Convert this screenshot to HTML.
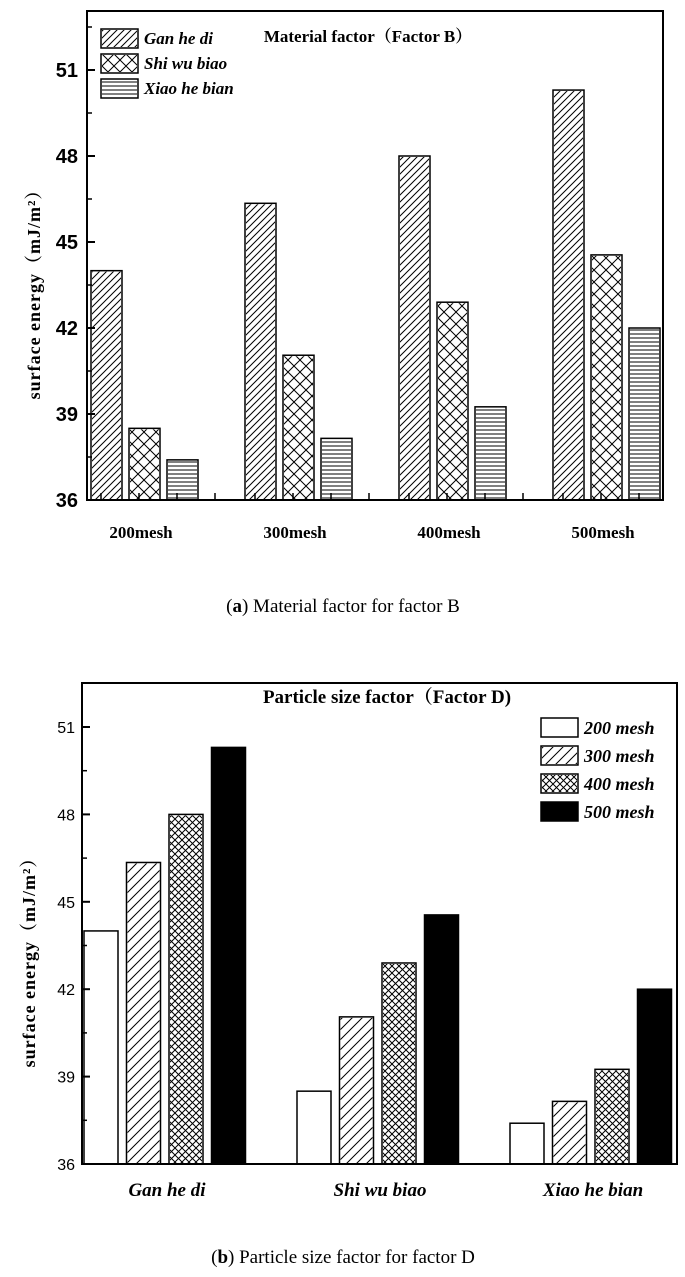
<!DOCTYPE html>
<html><head><meta charset="utf-8">
<style>
html,body{margin:0;padding:0;background:#fff;}
svg{display:block;}
</style></head>
<body>
<svg id="c" width="685" height="1277" viewBox="0 0 685 1277" xmlns="http://www.w3.org/2000/svg" font-family="Liberation Serif, serif">
<defs>
<pattern id="pDiag" patternUnits="userSpaceOnUse" width="7" height="7">
<path d="M-1,8 L8,-1 M-2,2 L2,-2 M5,9 L9,5" stroke="#000" stroke-width="1"/>
</pattern>
<pattern id="pDiag2" patternUnits="userSpaceOnUse" width="10" height="10">
<path d="M-1,11 L11,-1 M-3,3 L3,-3 M7,13 L13,7" stroke="#000" stroke-width="1"/>
</pattern>
<pattern id="pCross" patternUnits="userSpaceOnUse" width="12" height="12">
<path d="M0,0 L12,12 M12,0 L0,12" stroke="#000" stroke-width="1"/>
</pattern>
<pattern id="pCross2" patternUnits="userSpaceOnUse" width="7" height="7">
<path d="M0,0 L7,7 M7,0 L0,7" stroke="#000" stroke-width="1"/>
</pattern>
<pattern id="pHoriz" patternUnits="userSpaceOnUse" width="6" height="4">
<path d="M0,2 L6,2" stroke="#000" stroke-width="1"/>
</pattern>
</defs>
<g id="gA"></g>
<g id="gB"></g>
<text x="343" y="612" font-size="19" text-anchor="middle">(<tspan font-weight="bold">a</tspan>) Material factor for factor B</text>
<text x="343" y="1263" font-size="19" text-anchor="middle">(<tspan font-weight="bold">b</tspan>) Particle size factor for factor D</text>
</svg>
<script>
const meshCats = ["200mesh","300mesh","400mesh","500mesh"];
const materials = ["Gan he di","Shi wu biao","Xiao he bian"];
const ganValues = [44.0, 46.35, 48.0, 50.3];
const shiValues = [38.5, 41.05, 42.9, 44.55];
const xiaoValues = [37.4, 38.15, 39.25, 42.0];
const yTicks = [36, 39, 42, 45, 48, 51];
const meshLegend = ["200 mesh","300 mesh","400 mesh","500 mesh"];

const NS = "http://www.w3.org/2000/svg";
function mk(parent, tag, attrs, txt){
  const e = document.createElementNS(NS, tag);
  for (const k in attrs) e.setAttribute(k, attrs[k]);
  if (txt !== undefined) e.textContent = txt;
  parent.appendChild(e); return e;
}
const series = [ganValues, shiValues, xiaoValues];
const SANS = 'Liberation Sans, sans-serif';
const SERIFCJK = 'Liberation Serif, Noto Serif CJK SC, serif';

// ---------- Chart A ----------
(function(){
  const g = document.getElementById('gA');
  const L=87, R=663, T=11, B=500, ymin=36;
  const unit = (B-70)/(51-36);
  const y = v => B - (v-ymin)*unit;
  const fills = ["url(#pDiag)","url(#pCross)","url(#pHoriz)"];
  const gx0 = 91, pitch = 154, bw = 31, step = 38;
  meshCats.forEach((c,i)=>{
    series.forEach((s,j)=>{
      const x = gx0 + i*pitch + j*step;
      const r = mk(g,'rect',{x:x, y:y(s[i]), width:bw, height:B-y(s[i]), fill:'#fff', stroke:'#000','stroke-width':1.5});
      
      
      const h = mk(g,'rect',{x:x+1, y:y(s[i])+1, width:bw-2, height:B-y(s[i])-2, fill:fills[j]});
      
      
    });
    const t = mk(g,'text',{x:gx0+i*pitch+50, y:538, 'font-size':17,'font-weight':'bold','text-anchor':'middle'}, c);
    
    
    for (let k=0;k<4;k++){
      const tx = gx0 + i*pitch + 10 + k*38;
      if (tx < R-2) mk(g,'line',{x1:tx,y1:B,x2:tx,y2:B-7,stroke:'#000','stroke-width':1.5});
    }
  });
  mk(g,'rect',{x:L,y:T,width:R-L,height:B-T,fill:'none',stroke:'#000','stroke-width':2,});
  yTicks.forEach(v=>{
    mk(g,'line',{x1:L,y1:y(v),x2:L+8,y2:y(v),stroke:'#000','stroke-width':2});
    const t = mk(g,'text',{x:L-9,y:y(v)+7,'font-size':20,'font-weight':'bold','text-anchor':'end','font-family':SANS}, String(v));
    
    
    if (v<51){ mk(g,'line',{x1:L,y1:y(v+1.5),x2:L+5,y2:y(v+1.5),stroke:'#000','stroke-width':1.5}); }
  });
  mk(g,'line',{x1:L,y1:y(52.5),x2:L+5,y2:y(52.5),stroke:'#000','stroke-width':1.5});
  mk(g,'text',{x:40,y:290,'font-size':18,'font-weight':'bold','text-anchor':'middle','letter-spacing':'1',transform:'rotate(-90 40 290)','font-family':SERIFCJK},'surface energy（mJ/m²）');
  mk(g,'text',{x:368,y:42,'font-size':17,'font-weight':'bold','text-anchor':'middle','font-family':SERIFCJK},'Material factor（Factor B）');
  const ly=[29,54,79];
  materials.forEach((m,j)=>{
    mk(g,'rect',{x:101,y:ly[j],width:37,height:19,fill:'#fff',stroke:'#000','stroke-width':1.5,});
    mk(g,'rect',{x:102,y:ly[j]+1,width:35,height:17,fill:fills[j]});
    mk(g,'text',{x:144,y:ly[j]+15,'font-size':17,'font-weight':'bold','font-style':'italic',},m);
  });
})();

// ---------- Chart B ----------
(function(){
  const g = document.getElementById('gB');
  const L=82, R=677, T=683, B=1164, ymin=36;
  const unit = (B-727)/(51-36);
  const y = v => B - (v-ymin)*unit;
  const fills = ["#fff","url(#pDiag2)","url(#pCross2)","#000"];
  const gx0 = 84, pitch = 213, bw = 34, step = 42.5;
  materials.forEach((m,i)=>{
    meshCats.forEach((c,j)=>{
      const v = series[i][j];
      const x = gx0 + i*pitch + j*step;
      const r = mk(g,'rect',{x:x, y:y(v), width:bw, height:B-y(v), fill:j==3?'#000':'#fff', stroke:'#000','stroke-width':1.5});
      
      
      if (j==1||j==2){
        const h = mk(g,'rect',{x:x+1, y:y(v)+1, width:bw-2, height:B-y(v)-2, fill:fills[j]});
        
        
      }
    });
    const t = mk(g,'text',{x:gx0+i*pitch+83,y:1196,'font-size':19,'font-weight':'bold','font-style':'italic','text-anchor':'middle'},m);
    
    
  });
  mk(g,'rect',{x:L,y:T,width:R-L,height:B-T,fill:'none',stroke:'#000','stroke-width':2,});
  yTicks.forEach(v=>{
    mk(g,'line',{x1:L,y1:y(v),x2:L+8,y2:y(v),stroke:'#000','stroke-width':2});
    const t = mk(g,'text',{x:L-7,y:y(v)+6,'font-size':16,'text-anchor':'end','font-family':SANS},String(v));
    
    
    if (v<51){ mk(g,'line',{x1:L,y1:y(v+1.5),x2:L+5,y2:y(v+1.5),stroke:'#000','stroke-width':1.5}); }
  });
  mk(g,'text',{x:35,y:958,'font-size':18,'font-weight':'bold','text-anchor':'middle','letter-spacing':'1',transform:'rotate(-90 35 958)','font-family':SERIFCJK},'surface energy（mJ/m²）');
  mk(g,'text',{x:387,y:703,'font-size':19,'font-weight':'bold','text-anchor':'middle','font-family':SERIFCJK},'Particle size factor（Factor D)');
  meshLegend.forEach((m,j)=>{
    const ly = 718 + j*28;
    mk(g,'rect',{x:541,y:ly,width:37,height:19,fill:j==3?'#000':'#fff',stroke:'#000','stroke-width':1.5,});
    if (j==1||j==2) mk(g,'rect',{x:542,y:ly+1,width:35,height:17,fill:fills[j]});
    mk(g,'text',{x:584,y:ly+16,'font-size':18,'font-weight':'bold','font-style':'italic',},m);
  });
})();
</script>
</body></html>
